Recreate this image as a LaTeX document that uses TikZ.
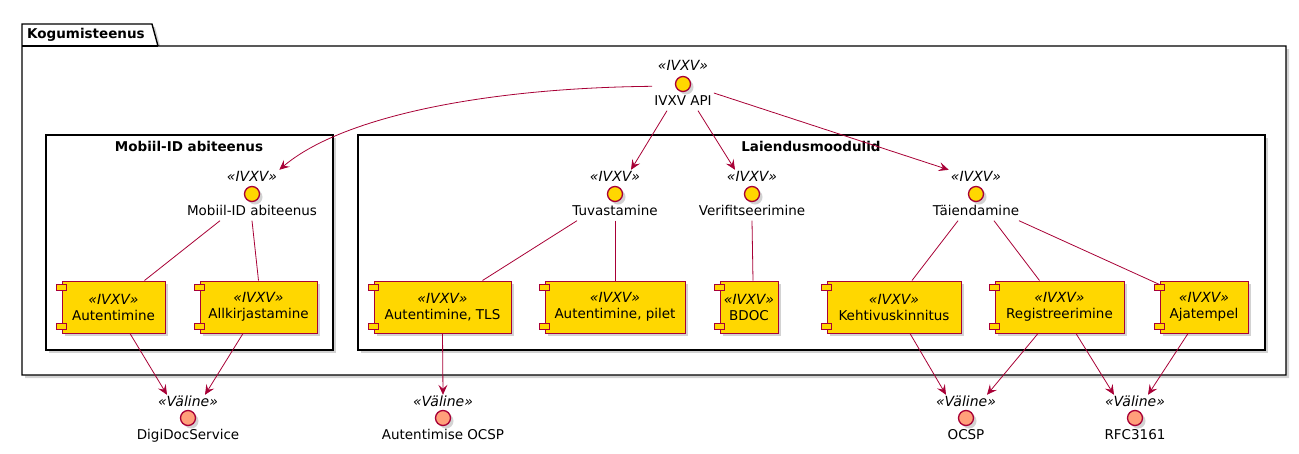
\documentclass[tikz,border=0pt]{standalone}
\usepackage{fontspec}
\setmainfont{DejaVu Sans}
\usetikzlibrary{arrows.meta}
\usetikzlibrary{shadows}
\definecolor{umlred}{HTML}{A80036}
\definecolor{umlgold}{HTML}{FFD700}
\definecolor{umlsalmon}{HTML}{FFA07A}
\newcommand{\ivxv}{{\fontsize{14}{16}\selectfont\itshape «IVXV»}}
\tikzset{
    shade/.style = {drop shadow={shadow xshift=3pt, shadow yshift=-3pt, opacity=0.35}},
    pkg/.style = {draw=black, fill=white, line width=1.4pt, shade},
    title/.style = {font=\fontsize{13.5}{16}\selectfont\bfseries, inner sep=0pt},
    stereo/.style = {font=\fontsize{14}{15}\selectfont\itshape, text height=9.5pt, text depth=2.5pt, inner sep=2pt},
    ilabel/.style = {font=\fontsize{13.5}{16}\selectfont, text height=10pt, text depth=3pt, inner sep=2pt},
    iface/.style = {circle, draw=umlred, line width=1.3pt, fill=umlgold, minimum size=15pt, inner sep=0pt, shade},
    xface/.style = {iface, fill=umlsalmon},
    comp/.style = {rectangle, draw=umlred, line width=1pt, fill=umlgold, minimum height=52pt, align=center, inner sep=0pt, font=\fontsize{13.5}{16}\selectfont, shade},
    pin/.style = {draw=umlred, line width=1pt, fill=umlgold},
    link/.style = {draw=umlred, line width=0.8pt},
    dep/.style = {link, -{Stealth[length=10pt, width=9pt, inset=4pt]}}
}
\begin{document}
\begin{tikzpicture}[x=1pt, y=-1pt]
    \useasboundingbox (0,0) rectangle (1299,453);

    % package and its two groups
    \draw[pkg] (22,24) -- (152,24) -- (158,46) -- (1286,46) -- (1286,375) -- (22,375) -- cycle;
    \draw[line width=1.4pt] (22,46) -- (158,46);
    \node[title, anchor=west] (kogt) at (27,35) {Kogumisteenus};
    \draw[pkg] (46,135) rectangle (333,350);
    \node[title] (mobt) at (189,146) {Mobiil-ID abiteenus};
    \draw[pkg] (358,135) rectangle (1265,350);
    \node[title] (lait) at (811,146) {Laiendusmoodulid};

    % provided interfaces
    \node[stereo] (apis) at (683,67) {«IVXV»};
    \node[iface] (api) at (683,84) {};
    \node[ilabel] (apil) at (683,102) {IVXV API};
    \foreach \n/\x/\t in {mob/252/Mobiil-ID abiteenus, tuv/615/Tuvastamine,
                          ver/752/Verifitseerimine, tae/976/Täiendamine} {
        \node[stereo] (\n s) at (\x,178) {«IVXV»};
        \node[iface] (\n) at (\x,194) {};
        \node[ilabel] (\n l) at (\x,212) {\t};
    }

    % components
    \foreach \n/\x/\w/\t in {aut/113.5/103/Autentimine, allk/258.5/117/Allkirjastamine,
                             tls/442.5/137/{Autentimine, TLS}, pilet/615/140/{Autentimine, pilet},
                             bdoc/749/58/BDOC, keht/894/134/Kehtivuskinnitus,
                             reg/1059.5/129/Registreerimine, aja/1204/88/Ajatempel} {
        \node[comp, minimum width=\w pt] (\n) at (\x,307) {\ivxv\\\t};
        \draw[pin] ([xshift=-5pt,yshift=-4pt]\n.north west) rectangle ++(10pt,-6pt);
        \draw[pin] ([xshift=-5pt,yshift=4pt]\n.south west) rectangle ++(10pt,6pt);
    }

    % external interfaces
    \foreach \n/\x/\t in {dds/188/DigiDocService, aocsp/443/Autentimise OCSP,
                          ocsp/966/OCSP, rfc/1135/RFC3161} {
        \node[stereo] (\n s) at (\x,403) {«Väline»};
        \node[xface] (\n) at (\x,418) {};
        \node[ilabel] (\n l) at (\x,436) {\t};
    }

    % IVXV API to the modules
    \draw[dep] ([yshift=7pt]apil.north west) .. controls (480,88) and (340,118) .. (mobs.north east);
    \draw[dep] ([xshift=-16pt]apil.south) -- ([xshift=16pt]tuvs.north);
    \draw[dep] ([xshift=15pt]apil.south) -- ([xshift=-17pt]vers.north);
    \draw[dep] ([yshift=9pt]apil.east) -- (taes.north west);

    % interfaces to components
    \draw[link] ([xshift=-32pt]mobl.south) -- ([xshift=31pt]aut.north);
    \draw[link] (mobl.south) -- (allk.north);
    \draw[link] ([xshift=-38pt]tuvl.south) -- ([xshift=40pt]tls.north);
    \draw[link] (tuvl.south) -- (pilet.north);
    \draw[link] (verl.south) -- ([xshift=4pt]bdoc.north);
    \draw[link] ([xshift=-18pt]tael.south) -- ([xshift=18pt]keht.north);
    \draw[link] ([xshift=18pt]tael.south) -- ([xshift=-20pt]reg.north);
    \draw[link] ([xshift=43pt]tael.south) -- ([yshift=-4pt]aja.north west);

    % components to external services
    \draw[dep] ([xshift=16.5pt]aut.south) -- ([xshift=-21pt]ddss.north);
    \draw[dep] ([xshift=-15.5pt]allk.south) -- ([xshift=17pt]ddss.north);
    \draw[dep] (tls.south) -- (aocsps.north);
    \draw[dep] ([xshift=16pt]keht.south) -- ([xshift=-20pt]ocsps.north);
    \draw[dep] ([xshift=-21.5pt]reg.south) -- ([xshift=21pt]ocsps.north);
    \draw[dep] ([xshift=16.5pt]reg.south) -- ([xshift=-21pt]rfcs.north);
    \draw[dep] ([xshift=-16pt]aja.south) -- ([xshift=13pt]rfcs.north);
\end{tikzpicture}
\end{document}
